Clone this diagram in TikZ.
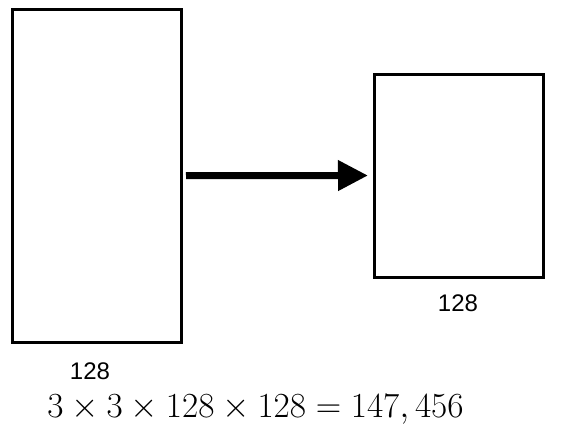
\documentclass[tikz,border=0pt]{standalone}
\usepackage{graphicx}
\usepackage{fontspec}
\newfontfamily\labfont{Liberation Sans}
\usetikzlibrary{arrows.meta}
\tikzset{
  block/.style={draw=black, line width=3pt, fill=white, inner sep=0pt, outer sep=0pt},
  dimlabel/.style={font=\labfont\fontsize{24}{28}\selectfont, inner sep=0pt},
  bigarrow/.style={line width=7pt, -{Triangle[length=30pt,width=29pt]}}
}
\begin{document}
\begin{tikzpicture}[x=1pt,y=-1pt]
\useasboundingbox (0,0) rectangle (566,445);
\node[block, minimum width=169pt, minimum height=333.5pt] (L) at (97,175.75) {};
\node[block, minimum width=169pt, minimum height=203pt] (R) at (459,175.5) {};
\draw[bigarrow, shorten <=4.5pt, shorten >=6.5pt] (L.east) -- (R.west);
\node[dimlabel] (l1) at (90,371.5) {128};
\node[dimlabel] (l2) at (458,303) {128};
\node[anchor=base, inner sep=0pt] (f) at (255.5,417) {\scalebox{1.70}{\fontsize{20}{24}\selectfont$3\times3\times128\times128=147,456$}};
\end{tikzpicture}
\end{document}
